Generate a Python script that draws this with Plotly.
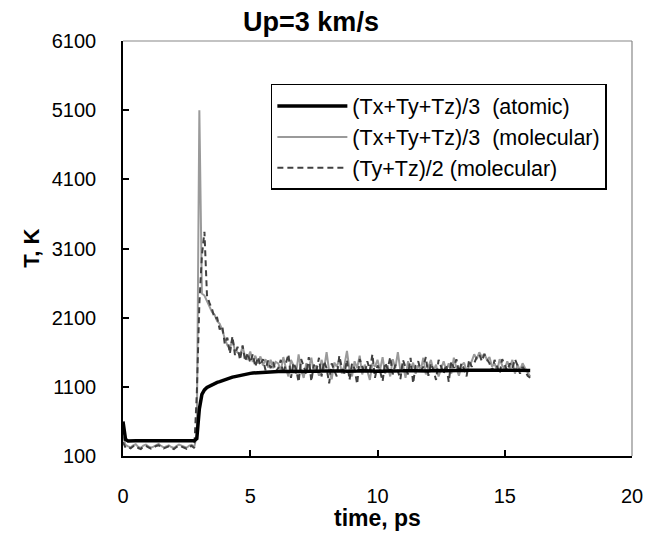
import numpy as np
import plotly.graph_objects as go

# time grid (ps), sampled every 0.1 ps from 0 to 16
time_ps = [round(i * 0.1, 1) for i in range(161)]

atomic_T = (
    [600, 340]
    + [318, 322, 320, 321, 319, 320, 322, 318, 320, 321, 320, 319, 322, 320, 318,
       321, 320, 322, 319, 320, 321, 318, 320, 322, 320, 319, 321]
    + [350, 780, 990, 1055, 1090, 1110, 1130, 1145, 1165, 1175, 1190, 1205, 1220,
       1230, 1240, 1248, 1258, 1265, 1275, 1285, 1290, 1295, 1300, 1303, 1306,
       1308, 1310, 1312, 1314, 1316, 1318, 1320]
    + [1322, 1320, 1325, 1323, 1321, 1326, 1324, 1322, 1327, 1325,
       1323, 1328, 1326, 1324, 1322, 1327, 1325, 1329, 1326, 1324,
       1328, 1330, 1327, 1325, 1329, 1331, 1328, 1326, 1330, 1328,
       1325, 1329, 1331, 1328, 1326, 1330, 1332, 1329, 1327, 1331,
       1329, 1326, 1330, 1333, 1331, 1328, 1332, 1330, 1327, 1331,
       1333, 1330, 1328, 1332, 1334, 1331, 1329, 1333, 1331, 1328,
       1332, 1335, 1332, 1330, 1334, 1336, 1333, 1331, 1335, 1333,
       1336, 1338, 1335, 1333, 1337, 1339, 1336, 1334, 1338, 1340,
       1342, 1339, 1337, 1341, 1343, 1340, 1338, 1342, 1344, 1341,
       1339, 1342, 1340, 1338, 1341, 1339, 1337, 1340, 1338, 1336]
)

molecular_T = (
    [380, 260]
    + [240, 225, 255, 270, 230, 215, 250, 265, 240, 220, 235, 260, 275, 245, 225,
       240, 255, 230, 215, 245, 265, 250, 235, 220, 250, 260, 230]
    + [400, 5100, 2450, 2420, 2340, 2270, 2180, 2140, 2050, 2010, 1920, 1800, 1700,
       1650, 1790, 1620, 1600, 1560, 1680, 1530, 1500, 1610, 1460, 1550, 1440,
       1540, 1410, 1500, 1380, 1490, 1370, 1460]
    + [1440, 1330, 1530, 1370, 1250, 1490, 1410, 1290, 1570, 1340,
       1230, 1440, 1370, 1520, 1310, 1410, 1260, 1490, 1360, 1600,
       1330, 1210, 1450, 1390, 1500, 1290, 1410, 1620, 1340, 1250,
       1470, 1370, 1550, 1280, 1420, 1330, 1200, 1440, 1390, 1490,
       1340, 1530, 1290, 1410, 1250, 1500, 1370, 1600, 1330, 1420,
       1230, 1470, 1360, 1450, 1290, 1410, 1340, 1520, 1280, 1390,
       1490, 1330, 1420, 1250, 1370, 1470, 1340, 1440, 1290, 1520,
       1370, 1260, 1410, 1450, 1330, 1390, 1470, 1570, 1500, 1600,
       1530, 1580, 1490, 1530, 1390, 1440, 1330, 1500, 1410, 1360,
       1470, 1370, 1490, 1290, 1420, 1340, 1440, 1370, 1310, 1250]
)

transverse_T = (
    [300, 220]
    + [230, 210, 240, 250, 215, 200, 235, 245, 225, 205, 220, 245, 255, 230, 210,
       225, 240, 215, 200, 230, 250, 235, 220, 205, 235, 245, 215]
    + [1000, 2300, 3000, 3340, 2420, 2310, 2220, 2090, 2100, 1930, 1980, 1720, 1810,
       1580, 1830, 1560, 1680, 1490, 1700, 1470, 1590, 1450, 1570, 1390, 1530,
       1410, 1500, 1340, 1480, 1370, 1460, 1320]
    + [1370, 1490, 1280, 1440, 1570, 1230, 1450, 1360, 1170, 1500,
       1390, 1290, 1530, 1180, 1420, 1330, 1520, 1250, 1470, 1370,
       1150, 1440, 1340, 1250, 1550, 1370, 1290, 1490, 1200, 1440,
       1360, 1140, 1500, 1390, 1290, 1470, 1340, 1570, 1230, 1410,
       1330, 1180, 1450, 1360, 1530, 1280, 1420, 1330, 1210, 1490,
       1370, 1280, 1520, 1150, 1410, 1470, 1330, 1390, 1530, 1260,
       1440, 1340, 1200, 1490, 1390, 1290, 1420, 1170, 1470, 1370,
       1500, 1310, 1440, 1360, 1250, 1490, 1390, 1440, 1530, 1570,
       1470, 1570, 1500, 1440, 1330, 1490, 1390, 1290, 1500, 1420,
       1330, 1440, 1370, 1500, 1410, 1290, 1390, 1330, 1260, 1230]
)

x_ticks = [0, 5, 10, 15, 20]
y_ticks = [100, 1100, 2100, 3100, 4100, 5100, 6100]

series_names = [
    "(Tx+Ty+Tz)/3\u00a0\u00a0(atomic)",
    "(Tx+Ty+Tz)/3\u00a0\u00a0(molecular)",
    "(Ty+Tz)/2 (molecular)",
]

FONT = "Liberation Sans, Arial, sans-serif"

fig = go.Figure()
fig.add_trace(go.Scatter(
    x=time_ps, y=molecular_T, mode="lines", name=series_names[1], legendrank=2,
    line=dict(color="#9a9a9a", width=2)))
fig.add_trace(go.Scatter(
    x=time_ps, y=transverse_T, mode="lines", name=series_names[2], legendrank=3,
    line=dict(color="#404040", width=2, dash="6px,4px")))
fig.add_trace(go.Scatter(
    x=time_ps, y=atomic_T, mode="lines", name=series_names[0], legendrank=1,
    line=dict(color="black", width=3.5)))

axis_common = dict(
    showgrid=False, zeroline=False, showline=True, linecolor="black", linewidth=1.5,
    ticks="inside", ticklen=6, tickwidth=1.5, tickcolor="black",
    tickfont=dict(family=FONT, size=20, color="black"),
)

fig.update_layout(
    width=655, height=538,
    margin=dict(l=123, r=16, t=41, b=82),
    paper_bgcolor="white", plot_bgcolor="white",
    font=dict(family=FONT, color="black"),
    title=dict(text="<b>Up=3 km/s</b>", font=dict(family=FONT, size=27, color="black"),
               x=311 / 655, xanchor="center", y=1 - 22 / 538, yanchor="middle",
               xref="container", yref="container"),
    xaxis=dict(range=[0, 20], tickvals=x_ticks, ticklabelstandoff=21, **axis_common),
    yaxis=dict(range=[100, 6100], tickvals=y_ticks, ticklabelstandoff=21, **axis_common),
    legend=dict(x=0.2905, y=0.8964, xanchor="left", yanchor="top",
                bordercolor="black", borderwidth=1.5, bgcolor="white",
                font=dict(family=FONT, size=21.5, color="black"),
                itemwidth=70),
    showlegend=True,
    shapes=[
        dict(type="line", xref="paper", yref="paper", x0=0, x1=1, y0=1, y1=1,
             line=dict(color="#888888", width=1.2)),
        dict(type="line", xref="paper", yref="paper", x0=1, x1=1, y0=0, y1=1,
             line=dict(color="#888888", width=1.2)),
    ],
    annotations=[
        dict(text="<b>T, K</b>", xref="paper", yref="paper", x=(30 - 123) / 516.3, y=0.5,
             textangle=-90, showarrow=False, xanchor="center", yanchor="middle",
             font=dict(family=FONT, size=22, color="black")),
        dict(text="<b>time, ps</b>", xref="paper", yref="paper", x=0.5, y=(456 - 518) / 415,
             showarrow=False, xanchor="center", yanchor="middle",
             font=dict(family=FONT, size=23, color="black")),
    ],
)

fig.write_html("out.html")
